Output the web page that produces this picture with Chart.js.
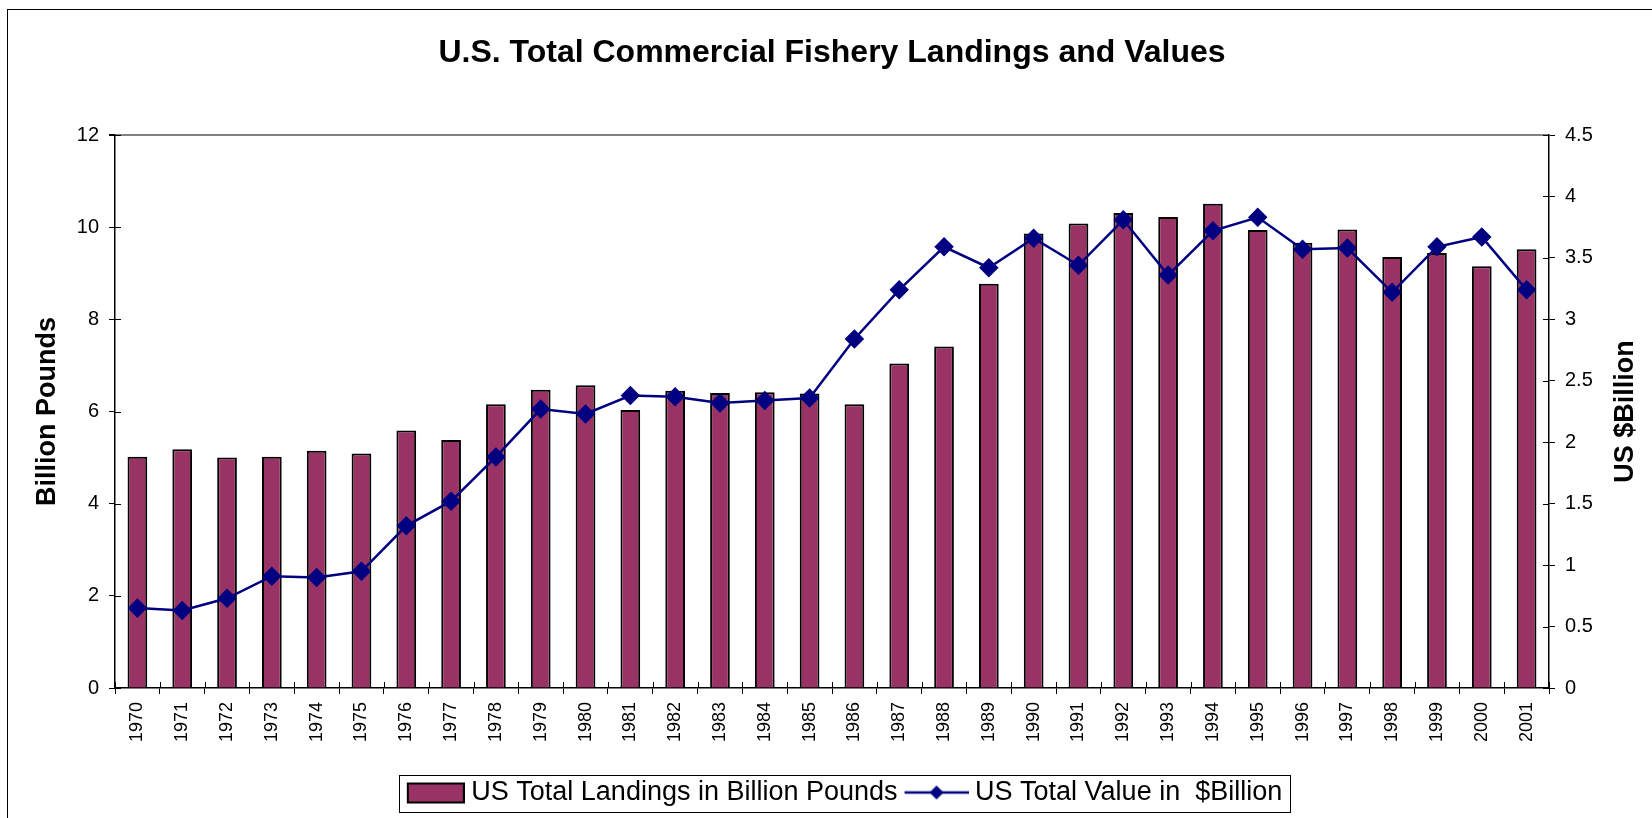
<!DOCTYPE html>
<html>
<head>
<meta charset="utf-8">
<title>U.S. Total Commercial Fishery Landings and Values</title>
<script src="https://cdn.jsdelivr.net/npm/chart.js@4/dist/chart.umd.min.js"></script>
<style>
  html, body { margin: 0; padding: 0; background: #fff; overflow: hidden; }
  #wrap { position: relative; width: 1652px; height: 818px; }
</style>
</head>
<body>
<div id="wrap"><canvas id="chart" width="1652" height="818"></canvas></div>
<script>
const years = ['1970', '1971', '1972', '1973', '1974', '1975', '1976', '1977', '1978', '1979',
  '1980', '1981', '1982', '1983', '1984', '1985', '1986', '1987', '1988', '1989',
  '1990', '1991', '1992', '1993', '1994', '1995', '1996', '1997', '1998', '1999',
  '2000', '2001'];

// billion pounds (left axis)
const landings = [5.02, 5.18, 5.00, 5.02, 5.15, 5.09, 5.59, 5.38, 6.16, 6.47,
  6.57, 6.03, 6.45, 6.40, 6.42, 6.39, 6.16, 7.04, 7.41, 8.77,
  9.86, 10.08, 10.31, 10.22, 10.51, 9.94, 9.66, 9.95, 9.35, 9.44,
  9.15, 9.52];

// $ billion (right axis)
const values = [0.65, 0.63, 0.73, 0.91, 0.90, 0.95, 1.32, 1.52, 1.88, 2.27,
  2.23, 2.38, 2.37, 2.32, 2.34, 2.36, 2.84, 3.24, 3.59, 3.42,
  3.66, 3.44, 3.81, 3.36, 3.72, 3.83, 3.57, 3.58, 3.22, 3.59,
  3.67, 3.24];

const leftTicks = ['0', '2', '4', '6', '8', '10', '12'];
const rightTicks = ['0', '0.5', '1', '1.5', '2', '2.5', '3', '3.5', '4', '4.5'];

const barLabel = 'US Total Landings in Billion Pounds';
const lineLabel = 'US Total Value in  $Billion';

const BAR_COLOR = '#993366';
const LINE_COLOR = '#000080';
const FONT = "'Liberation Sans', Arial, sans-serif";

Chart.defaults.font.family = FONT;
Chart.defaults.color = '#000';

// legend swatches drawn into small canvases, used as point styles
function swatch(kind) {
  const c = document.createElement('canvas');
  c.width = 66;
  c.height = 24;
  const g = c.getContext('2d');
  if (kind === 'bar') {
    g.fillStyle = BAR_COLOR;
    g.strokeStyle = '#000';
    g.lineWidth = 2;
    g.fillRect(9, 3, 56, 19);
    g.strokeRect(9, 3, 56, 19);
  } else {
    g.strokeStyle = LINE_COLOR;
    g.lineWidth = 2.5;
    g.beginPath();
    g.moveTo(2, 12);
    g.lineTo(66, 12);
    g.stroke();
    g.fillStyle = LINE_COLOR;
    g.beginPath();
    g.moveTo(34, 5);
    g.lineTo(41, 12);
    g.lineTo(34, 19);
    g.lineTo(27, 12);
    g.closePath();
    g.fill();
  }
  return c;
}

const frameAndExtras = {
  id: 'frameAndExtras',
  beforeDraw(chart) {
    const ctx = chart.ctx;
    ctx.save();
    ctx.strokeStyle = '#000';
    ctx.lineWidth = 1;
    ctx.strokeRect(7.5, 9.5, 1700, 900);
    ctx.restore();
  },
  afterUpdate(chart) {
    // nudge the legend a little to the right, like the original
    const legend = chart.legend;
    const hb = legend.legendHitBoxes;
    if (!hb || !hb.length) return;
    const l = hb[0].left - 7;
    const r = hb[hb.length - 1].left + hb[hb.length - 1].width + 8;
    const dx = Math.round(844 - (l + r) / 2);
    legend.left += dx;
    legend.right += dx;
    hb.forEach(b => { b.left += dx; });
  },
  afterDatasetsDraw(chart) {
    const ctx = chart.ctx;
    const {left, right, bottom} = chart.chartArea;
    const y = chart.scales.y, y1 = chart.scales.y1, x = chart.scales.x;
    ctx.save();
    ctx.strokeStyle = '#000';
    ctx.lineWidth = 1;
    ctx.beginPath();
    y.ticks.forEach(t => {
      const p = Math.round(y.getPixelForValue(t.value)) + 0.5;
      ctx.moveTo(left, p); ctx.lineTo(left + 6, p);
    });
    y1.ticks.forEach(t => {
      const p = Math.round(y1.getPixelForValue(t.value)) + 0.5;
      ctx.moveTo(right - 6, p); ctx.lineTo(right, p);
    });
    for (let i = 0; i <= years.length; i++) {
      const p = Math.round(x.getPixelForValue(i - 0.5)) + 0.5;
      ctx.moveTo(p, bottom - 6); ctx.lineTo(p, bottom);
    }
    ctx.stroke();
    ctx.restore();
  },
  afterDraw(chart) {
    const ctx = chart.ctx;
    const {top, bottom} = chart.chartArea;
    ctx.save();
    // right axis title reads bottom to top
    ctx.font = 'bold 27px ' + FONT;
    ctx.fillStyle = '#000';
    ctx.textAlign = 'center';
    ctx.textBaseline = 'middle';
    ctx.translate(1626, (top + bottom) / 2);
    ctx.rotate(-Math.PI / 2);
    ctx.fillText('US $Billion', 0, 0);
    ctx.restore();

    // legend border
    const hb = chart.legend.legendHitBoxes;
    if (hb && hb.length) {
      const l = Math.round(hb[0].left - 7) + 0.5;
      const r = Math.round(hb[hb.length - 1].left + hb[hb.length - 1].width + 8) + 0.5;
      const t = Math.round(hb[0].top - 4) + 0.5;
      const b = Math.round(hb[0].top + 33) + 0.5;
      ctx.save();
      ctx.strokeStyle = '#000';
      ctx.lineWidth = 1;
      ctx.strokeRect(l, t, r - l, b - t);
      ctx.restore();
    }
  }
};

new Chart(document.getElementById('chart'), {
  data: {
    labels: years,
    datasets: [
      {
        type: 'line',
        label: lineLabel,
        data: values,
        yAxisID: 'y1',
        borderColor: LINE_COLOR,
        borderWidth: 2.5,
        pointStyle: 'rectRot',
        pointRadius: 8,
        pointBackgroundColor: LINE_COLOR,
        pointBorderColor: LINE_COLOR,
        tension: 0,
        order: 1,
      },
      {
        type: 'bar',
        label: barLabel,
        data: landings,
        yAxisID: 'y',
        backgroundColor: BAR_COLOR,
        borderColor: '#000',
        borderWidth: 2,
        barPercentage: 0.44,
        categoryPercentage: 1,
        order: 2,
      },
    ],
  },
  options: {
    responsive: false,
    animation: false,
    layout: { padding: { left: 0, right: 0, top: 0, bottom: 2 } },
    plugins: {
      tooltip: { enabled: false },
      title: {
        display: true,
        fullSize: false,
        text: 'U.S. Total Commercial Fishery Landings and Values',
        color: '#000',
        font: { size: 32, weight: 'bold' },
        padding: { top: 34, bottom: 62.6 },
      },
      legend: {
        position: 'bottom',
        fullSize: false,
        labels: {
          usePointStyle: true,
          pointStyleWidth: 52,
          padding: 12,
          color: '#000',
          font: { size: 27 },
          generateLabels: () => [
            { text: barLabel, pointStyle: swatch('bar'), lineWidth: 0, hidden: false, datasetIndex: 1 },
            { text: lineLabel, pointStyle: swatch('line'), lineWidth: 0, hidden: false, datasetIndex: 0 },
          ],
        },
      },
    },
    scales: {
      x: {
        type: 'category',
        offset: true,
        grid: { offset: true, drawOnChartArea: false, color: '#000', tickLength: 6 },
        border: { color: '#000', width: 1.5 },
        ticks: {
          autoSkip: false,
          minRotation: 90,
          maxRotation: 90,
          padding: 8,
          color: '#000',
          font: { size: 18 },
        },
        afterFit: s => { s.height = 79; },
      },
      y: {
        position: 'left',
        min: 0,
        max: 12,
        afterBuildTicks: s => { s.ticks = leftTicks.map(v => ({ value: parseFloat(v) })); },
        ticks: {
          padding: 10,
          color: '#000',
          font: { size: 20 },
          callback: (v, i) => leftTicks[i],
        },
        grid: {
          color: c => (c.tick && c.tick.value === 12 ? '#808080' : 'rgba(0,0,0,0)'),
          lineWidth: c => (c.tick && c.tick.value === 12 ? 2 : 1),
          tickColor: '#000',
          tickLength: 6,
        },
        border: { color: '#000', width: 1.5 },
        title: {
          display: true,
          text: 'Billion Pounds',
          color: '#000',
          font: { size: 27, weight: 'bold' },
          padding: { top: 31, bottom: 0 },
        },
        afterFit: s => { s.width = 115; },
      },
      y1: {
        position: 'right',
        min: 0,
        max: 4.5,
        afterBuildTicks: s => { s.ticks = rightTicks.map(v => ({ value: parseFloat(v) })); },
        ticks: {
          padding: 10,
          color: '#000',
          font: { size: 20 },
          callback: (v, i) => rightTicks[i],
        },
        grid: { drawOnChartArea: false, tickColor: '#000', tickLength: 6 },
        border: { color: '#000', width: 1.5 },
        afterFit: s => { s.width = 103; },
      },
    },
  },
  plugins: [frameAndExtras],
});
</script>
</body>
</html>
